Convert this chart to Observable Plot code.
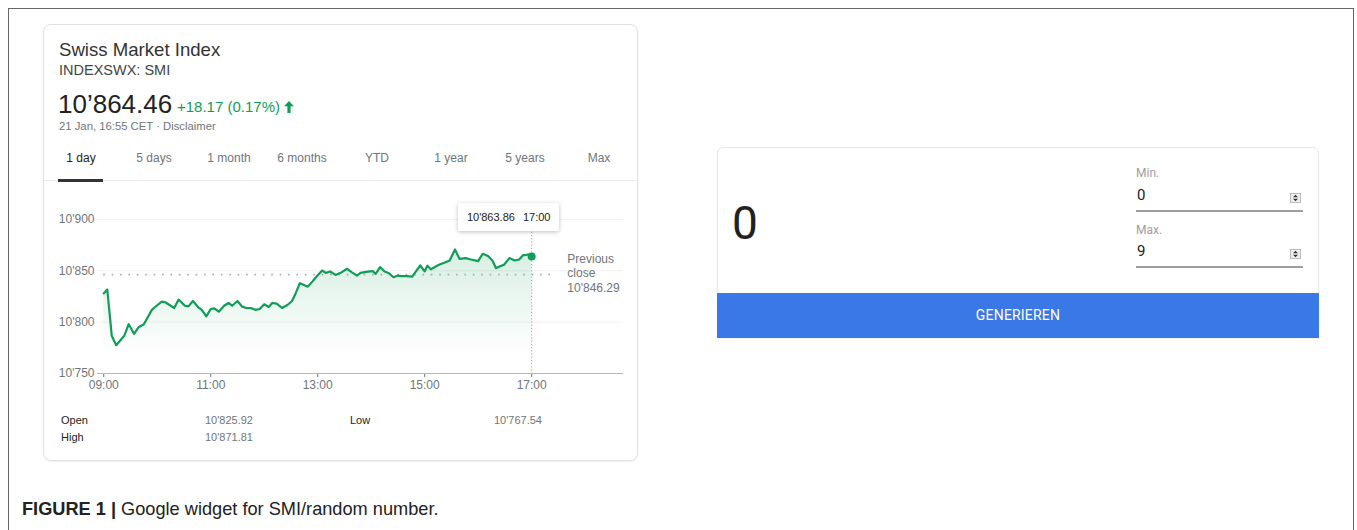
<!DOCTYPE html>
<html>
<head>
<meta charset="utf-8">
<script src="https://cdn.jsdelivr.net/npm/d3@7"></script>
<script src="https://cdn.jsdelivr.net/npm/@observablehq/plot@0.6"></script>
<style>
  html, body { margin: 0; padding: 0; background: #fff; }
  body { width: 1357px; height: 530px; position: relative; overflow: hidden; font-family: Arial, "Liberation Sans", sans-serif; }
  .abs { position: absolute; white-space: nowrap; line-height: 1; }
  #frame { position: absolute; left: 8px; top: 8px; width: 1346px; height: 560px; border: 1.5px solid #666; box-sizing: border-box; }
  #card1 { position: absolute; left: 43px; top: 24px; width: 595px; height: 437px; border: 1px solid #dfe1e5; border-radius: 8px; box-sizing: border-box; box-shadow: 0 1px 2px rgba(0,0,0,0.06); background: #fff; }
  #card2 { position: absolute; left: 717px; top: 147px; width: 602px; height: 191px; border: 1px solid #e8e8e8; border-radius: 6px 6px 0 0; box-sizing: border-box; background: #fff; box-shadow: 0 1px 2px rgba(0,0,0,0.05); }
  #btn { position: absolute; left: 717px; top: 293px; width: 602px; height: 45px; background: #3b78e7; }
  .tab { position: absolute; top: 152px; font-size: 12px; color: #70757a; transform: translateX(-50%); line-height: 1; white-space: nowrap; }
  .roboto { font-family: Roboto, Arial, sans-serif; }
  #tip { position: absolute; top: 203px; height: 28px; width: 101px; background: #fff; box-shadow: 0 1px 4px rgba(0,0,0,0.25); border-radius: 2px; display: flex; align-items: center; justify-content: center; gap: 8px; font-size: 11px; color: #222; box-sizing: border-box; }
</style>
</head>
<body>
<div id="frame"></div>
<div id="card1"></div>
<div id="card2"></div>
<div id="btn"></div>
<div id="chart" style="position:absolute;left:43px;top:190px;"></div>
<script>
// ---------- data ----------
const times = ["09:00","09:04","09:09","09:14","09:23","09:28","09:34","09:39","09:45","09:54","09:58","10:05","10:09","10:19","10:24","10:31","10:35","10:40","10:46","10:50","10:55","11:00","11:04","11:09","11:15","11:20","11:24","11:30","11:35","11:39","11:45","11:50","11:55","12:00","12:05","12:09","12:14","12:20","12:26","12:31","12:35","12:40","12:49","12:54","12:58","13:05","13:09","13:14","13:20","13:27","13:33","13:38","13:44","13:48","13:56","14:02","14:05","14:10","14:15","14:20","14:25","14:30","14:34","14:40","14:46","14:50","14:55","15:00","15:03","15:07","15:16","15:22","15:28","15:34","15:39","15:46","15:52","16:00","16:05","16:11","16:16","16:20","16:25","16:29","16:35","16:41","16:46","16:50","16:56","17:00"];
const values = [10828,10831.7,10786.7,10777.6,10786.7,10798,10788.7,10795,10798,10812,10815,10820,10819.4,10813.8,10822,10816,10815.4,10820.6,10814.5,10812,10805.7,10812.8,10813.5,10810.2,10816,10818.7,10816,10820.6,10815.4,10814,10813.8,10812,10812.8,10817.4,10814.8,10818.7,10818,10813.8,10816.7,10820.4,10827.5,10838,10834.6,10839.5,10843.8,10850.3,10848,10849.3,10846,10848.7,10852,10848.7,10845.4,10848,10849.3,10849.7,10847,10853.6,10849.3,10847.7,10843.8,10845.4,10844.8,10844.8,10844.4,10849.3,10855.2,10849.5,10855,10851.5,10855.9,10857.8,10860.1,10870.8,10861.7,10862.4,10861,10859.5,10866.6,10864.4,10860.1,10852.6,10854.6,10855.9,10862.4,10860.1,10861,10865,10865.9,10863.86];
const xDomain = ["08:53", "18:43"];
const xTicks = ["09:00", "11:00", "13:00", "15:00", "17:00"];
const yDomain = [10750, 10900];
const yTicks = [10750, 10800, 10850, 10900];
const gridValues = [10800, 10850, 10900];
const prevClose = 10846.29;
const prevCloseSpan = ["09:00", "17:27"];
const prevCloseLabelTime = "17:40";
const tipTime = "17:00";
const tipValue = 10863.86;

const header = { title: "Swiss Market Index", ticker: "INDEXSWX: SMI", price: "10’864.46", change: "+18.17 (0.17%)", date: "21 Jan, 16:55 CET · Disclaimer" };
const tabs = ["1 day", "5 days", "1 month", "6 months", "YTD", "1 year", "5 years", "Max"];
const tabCenters = [81, 154, 229, 302, 377, 451, 525, 599];
const stats = [["Open", "10'825.92", "Low", "10'767.54"], ["High", "10'871.81", "", ""]];
const rng = { value: "0", minLabel: "Min.", min: "0", maxLabel: "Max.", max: "9", button: "GENERIEREN" };
const captionBold = "FIGURE 1 |";
const captionText = " Google widget for SMI/random number.";

const green = "#0f9d58";
const parse = d3.utcParse("%H:%M");
const rows = times.map((t, i) => ({ time: parse(t), value: values[i] }));
const fmt = d => d3.format(",")(d).replace(",", "'");

const plot = Plot.plot({
  width: 595, height: 210,
  marginLeft: 54, marginRight: 15, marginTop: 29, marginBottom: 27,
  style: { fontSize: "12px", fontFamily: "Arial, 'Liberation Sans', sans-serif", color: "#70757a", background: "transparent", overflow: "visible" },
  x: { type: "utc", domain: xDomain.map(parse), ticks: xTicks.map(parse), tickFormat: d3.utcFormat("%H:%M"), tickSize: 4, tickPadding: 3, label: null },
  y: { domain: yDomain, ticks: yTicks, tickFormat: fmt, tickSize: 0, tickPadding: 3, label: null },
  marks: [
    Plot.ruleY(gridValues, { stroke: "#f1f1f1" }),
    Plot.areaY(rows, { x: "time", y1: yDomain[0], y2: "value", fill: "url(#smiFill)" }),
    Plot.ruleY([{ y: prevClose, x1: parse(prevCloseSpan[0]), x2: parse(prevCloseSpan[1]) }], { y: "y", x1: "x1", x2: "x2", stroke: "#a8acb0", strokeWidth: 1.6, strokeDasharray: "1.6,6.8" }),
    Plot.ruleX([{ time: parse(tipTime) }], { x: "time", stroke: "#9aa0a6", strokeDasharray: "1.2,2" }),
    Plot.ruleY([yDomain[0]], { stroke: "#b8b8b8" }),
    Plot.line(rows, { x: "time", y: "value", stroke: green, strokeWidth: 2.2 }),
    Plot.dot([{ time: parse(tipTime), value: tipValue }], { x: "time", y: "value", r: 4, fill: green }),
    Plot.text([{ time: parse(prevCloseLabelTime), value: prevClose, label: "Previous\nclose\n" + fmt(prevClose) }], { x: "time", y: "value", text: "label", textAnchor: "start", lineAnchor: "middle", lineHeight: 1.2, fill: "#70757a", fontSize: 12, dy: -2 })
  ]
});
const defs = d3.select(plot).insert("defs", ":first-child");
const grad = defs.append("linearGradient").attr("id", "smiFill").attr("x1", 0).attr("y1", 0).attr("x2", 0).attr("y2", 1);
grad.append("stop").attr("offset", "0%").attr("stop-color", green).attr("stop-opacity", 0.17);
grad.append("stop").attr("offset", "85%").attr("stop-color", green).attr("stop-opacity", 0);
document.getElementById("chart").appendChild(plot);

// ---------- HTML widget parts ----------
function add(html) { document.body.insertAdjacentHTML("beforeend", html); }
add(`<div class="abs" style="left:59px;top:40.5px;font-size:18.6px;color:#333;">${header.title}</div>`);
add(`<div class="abs" style="left:59px;top:63px;font-size:14.5px;color:#444;">${header.ticker}</div>`);
add(`<div class="abs" style="left:58px;top:91px;font-size:26px;color:#222;">${header.price}</div>`);
add(`<div class="abs" style="left:177px;top:98.5px;font-size:15px;color:${green};">${header.change} <svg width="10" height="12" viewBox="0 0 10 12" style="vertical-align:-1px"><path d="M5 0 L10 5.2 H6.6 V12 H3.4 V5.2 H0 Z" fill="${green}"/></svg></div>`);
add(`<div class="abs" style="left:59px;top:120.5px;font-size:11.3px;color:#70757a;">${header.date}</div>`);
tabs.forEach((t, i) => add(`<div class="tab" style="left:${tabCenters[i]}px;${i === 0 ? "color:#222;" : ""}">${t}</div>`));
add(`<div class="abs" style="left:44px;top:180px;width:593px;height:1px;background:#ebebeb;"></div>`);
add(`<div class="abs" style="left:58px;top:179px;width:45px;height:3px;background:#333;"></div>`);
const statX = [61, 205, 350, 494];
const statY = [414.5, 431.5];
stats.forEach((row, r) => row.forEach((s, c) => { if (s) add(`<div class="abs" style="left:${statX[c]}px;top:${statY[r]}px;font-size:11px;color:${c % 2 === 0 ? "#222" : "#70757a"};">${s}</div>`); }));

// tooltip positioned through the plot's x scale
const tipX = plot.scale("x").apply(parse(tipTime)) + 43;
add(`<div id="tip" style="left:${tipX - 73}px;"><span>${fmt(Math.floor(tipValue))}${(tipValue % 1).toFixed(2).slice(1)}</span><span>${tipTime}</span></div>`);

// random number widget
add(`<div class="abs roboto" style="left:732px;top:199.6px;font-size:46px;color:#212121;">${rng.value}</div>`);
add(`<div class="abs roboto" style="left:1136px;top:167px;font-size:12px;color:#9e9e9e;">${rng.minLabel}</div>`);
add(`<div class="abs roboto" style="left:1137px;top:187.5px;font-size:15px;color:#212121;">${rng.min}</div>`);
add(`<div class="abs" style="left:1136px;top:210px;width:167px;height:2px;background:#9e9e9e;"></div>`);
add(`<div class="abs roboto" style="left:1136px;top:224px;font-size:12px;color:#9e9e9e;">${rng.maxLabel}</div>`);
add(`<div class="abs roboto" style="left:1137px;top:243.5px;font-size:15px;color:#212121;">${rng.max}</div>`);
add(`<div class="abs" style="left:1136px;top:266px;width:167px;height:2px;background:#9e9e9e;"></div>`);
const spin = `<svg width="11" height="10" viewBox="0 0 11 10"><rect x="0.5" y="0.5" width="10" height="9" fill="#eee" stroke="#bbb"/><path d="M5.5 1.8 L8 4.3 H3 Z M5.5 8.2 L8 5.7 H3 Z" fill="#333"/></svg>`;
add(`<div class="abs" style="left:1290px;top:190px;">${spin}</div>`);
add(`<div class="abs" style="left:1290px;top:246px;">${spin}</div>`);
add(`<div class="abs roboto" style="left:1018px;top:308px;font-size:14px;letter-spacing:0.2px;color:#fff;transform:translateX(-50%);">${rng.button}</div>`);

// caption
add(`<div class="abs" style="left:22px;top:500px;font-size:18.2px;color:#222;"><b>${captionBold}</b>${captionText}</div>`);
</script>
</body>
</html>
